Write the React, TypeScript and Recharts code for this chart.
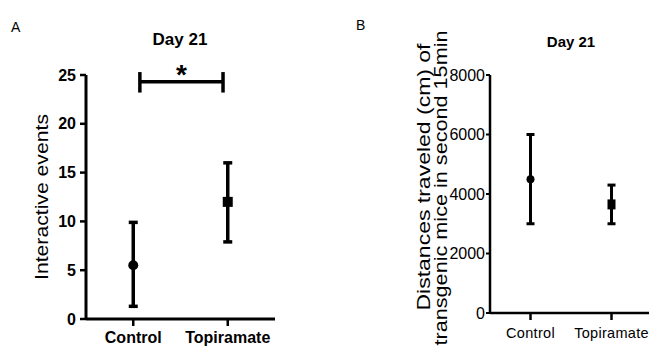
import { ScatterChart, Scatter, XAxis, YAxis, ErrorBar, ReferenceLine, ReferenceDot, Label } from "recharts";

const categories = ["Control", "Topiramate"];

// panel A - interactive events, day 21
const interactiveMean = [5.5, 12.0];
const interactiveLow = [1.3, 7.9];
const interactiveHigh = [9.9, 16.0];
const interactiveTicks = [0, 5, 10, 15, 20, 25];

// significance bracket between the two groups
const bracketLevel = 24.3;
const bracketEnds = [0.57, 1.45];
const bracketCap = [23.2, 25.3];

// panel B - distance travelled in second 15 min
const distanceMean = [4500, 3650];
const distanceLow = [3000, 3000];
const distanceHigh = [6000, 4300];
const distanceTicks = [0, 2000, 4000, 6000, 8000];

const buildRows = (mean: number[], low: number[], high: number[]) =>
    categories.map((name, i) => ({
        name,
        x: i + 0.5,
        y: mean[i],
        err: [mean[i] - low[i], high[i] - mean[i]],
    }));

const rowsA = buildRows(interactiveMean, interactiveLow, interactiveHigh);
const rowsB = buildRows(distanceMean, distanceLow, distanceHigh);

const marker = (r: number, side: number, tall: number) => (props: any) => {
    const { cx, cy, payload } = props;
    if (payload.name === "Control") return <circle cx={cx} cy={cy} r={r} fill="#000" />;
    return <rect x={cx - side / 2} y={cy - tall / 2} width={side} height={tall} fill="#000" />;
};

const catLabel = (v: number) => categories[Math.round(v - 0.5)] ?? "";

const LabelA = (props: any) => {
    const vb = props.viewBox ?? { x: 0, y: 75, width: 86, height: 244 };
    return (
        <text
            transform={`translate(${vb.x + 48}, ${vb.y + vb.height / 2}) rotate(-90)`}
            textAnchor="middle"
            fontSize={19}
            fill="#000"
            textLength={166}
            lengthAdjust="spacingAndGlyphs"
        >
            Interactive events
        </text>
    );
};

const LabelB = (props: any) => {
    const vb = props.viewBox ?? { x: 0, y: 75, width: 90, height: 238 };
    const mid = vb.y + vb.height / 2;
    return (
        <g fill="#000" fontSize={19}>
            <text
                transform={`translate(${vb.x + 30}, ${mid - 17}) rotate(-90)`}
                textAnchor="middle"
                textLength={267}
                lengthAdjust="spacingAndGlyphs"
            >
                Distances traveled (cm) of
            </text>
            <text
                transform={`translate(${vb.x + 47}, ${mid - 6}) rotate(-90)`}
                textAnchor="middle"
                textLength={315}
                lengthAdjust="spacingAndGlyphs"
            >
                transgenic mice in second 15min
            </text>
        </g>
    );
};

const Star = (props: any) => {
    const vb = props.viewBox ?? { x: 181, y: 82, width: 0, height: 0 };
    return (
        <text x={vb.x + vb.width / 2} y={vb.y + vb.height / 2 + 2} textAnchor="middle" fontSize={28} fontWeight={700} fill="#000">
            *
        </text>
    );
};

export default function App() {
    return (
        <div
            style={{
                position: "fixed",
                left: 0,
                top: 0,
                width: 649,
                height: 347,
                overflow: "hidden",
                background: "#fff",
                fontFamily: "'Liberation Sans', Arial, sans-serif",
                color: "#000",
            }}
        >
            <div style={{ position: "absolute", left: 11, top: 19, fontSize: 14 }}>A</div>
            <div style={{ position: "absolute", left: 356, top: 17, fontSize: 14 }}>B</div>
            <div style={{ position: "absolute", left: 130, width: 100, top: 30, textAlign: "center", fontSize: 17, fontWeight: 700 }}>Day 21</div>
            <div style={{ position: "absolute", left: 521, width: 100, top: 33, textAlign: "center", fontSize: 15, fontWeight: 700 }}>Day 21</div>

            <div style={{ position: "absolute", left: 0, top: 0 }}>
                <ScatterChart width={290} height={347} margin={{ top: 75, right: 15, bottom: 0, left: 0 }}>
                    <XAxis
                        type="number"
                        dataKey="x"
                        domain={[0, 2]}
                        ticks={[0.5, 1.5]}
                        tickFormatter={catLabel}
                        height={28}
                        tickSize={7}
                        tickMargin={6}
                        axisLine={{ stroke: "#000", strokeWidth: 3 }}
                        tickLine={{ stroke: "#000", strokeWidth: 2.5 }}
                        tick={{ fill: "#000", fontSize: 16, fontWeight: 700 }}
                    />
                    <YAxis
                        type="number"
                        dataKey="y"
                        domain={[0, 25]}
                        ticks={interactiveTicks}
                        width={86}
                        tickSize={6}
                        tickMargin={4}
                        axisLine={{ stroke: "#000", strokeWidth: 3 }}
                        tickLine={{ stroke: "#000", strokeWidth: 2.5 }}
                        tick={{ fill: "#000", fontSize: 16, fontWeight: 700 }}
                    >
                        <Label content={<LabelA />} />
                    </YAxis>
                    <ReferenceLine
                        segment={[{ x: bracketEnds[0], y: bracketLevel }, { x: bracketEnds[1], y: bracketLevel }]}
                        stroke="#000"
                        strokeWidth={3.5}
                        ifOverflow="visible"
                    />
                    {bracketEnds.map((bx) => (
                        <ReferenceLine
                            key={bx}
                            segment={[{ x: bx, y: bracketCap[0] }, { x: bx, y: bracketCap[1] }]}
                            stroke="#000"
                            strokeWidth={3.5}
                            ifOverflow="visible"
                        />
                    ))}
                    <ReferenceDot
                        x={(bracketEnds[0] + bracketEnds[1]) / 2}
                        y={bracketLevel}
                        r={0}
                        fill="none"
                        stroke="none"
                        ifOverflow="visible"
                        label={<Star />}
                    />
                    <Scatter data={rowsA} isAnimationActive={false} shape={marker(5, 10, 10)}>
                        <ErrorBar dataKey="err" direction="y" width={4.5} stroke="#000" strokeWidth={3.5} />
                    </Scatter>
                </ScatterChart>
            </div>

            <div style={{ position: "absolute", left: 400, top: 0 }}>
                <ScatterChart width={252} height={347} margin={{ top: 75, right: 0, bottom: 0, left: 0 }}>
                    <XAxis
                        type="number"
                        dataKey="x"
                        domain={[0, 2]}
                        ticks={[0.5, 1.5]}
                        tickFormatter={catLabel}
                        height={34}
                        tickSize={7}
                        tickMargin={8}
                        axisLine={{ stroke: "#000", strokeWidth: 2.5 }}
                        tickLine={{ stroke: "#000", strokeWidth: 2.5 }}
                        tick={{ fill: "#000", fontSize: 14.5, letterSpacing: 0.3 }}
                    />
                    <YAxis
                        type="number"
                        dataKey="y"
                        domain={[0, 8000]}
                        ticks={distanceTicks}
                        width={90}
                        tickSize={4}
                        tickMargin={1}
                        axisLine={{ stroke: "#000", strokeWidth: 2.5 }}
                        tickLine={{ stroke: "#000", strokeWidth: 2 }}
                        tick={{ fill: "#000", fontSize: 16 }}
                    >
                        <Label content={<LabelB />} />
                    </YAxis>
                    <Scatter data={rowsB} isAnimationActive={false} shape={marker(4, 8, 10)}>
                        <ErrorBar dataKey="err" direction="y" width={4} stroke="#000" strokeWidth={3} />
                    </Scatter>
                </ScatterChart>
            </div>
        </div>
    );
}
